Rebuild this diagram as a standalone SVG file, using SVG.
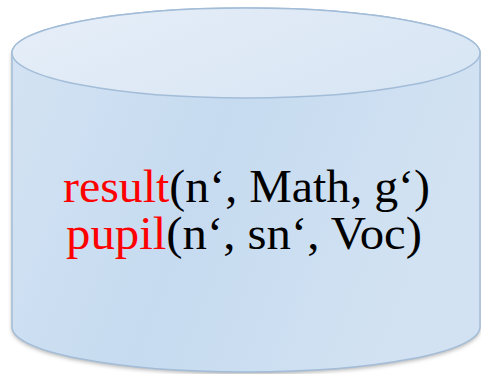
<svg xmlns="http://www.w3.org/2000/svg" width="481" height="374" viewBox="0 0 481 374">
  <style>
    .t { font-family: "Liberation Serif", "DejaVu Serif", serif; font-size: 46px; fill: #000; }
    .r { fill: #ff0000; }
  </style>
  <defs>
    <linearGradient id="body" x1="0" y1="0" x2="1" y2="0.3">
      <stop offset="0" stop-color="#d4e3f3"/>
      <stop offset="0.5" stop-color="#c6dbf0"/>
      <stop offset="1" stop-color="#d2e2f2"/>
    </linearGradient>
    <linearGradient id="top" x1="0" y1="0" x2="1" y2="0.5">
      <stop offset="0" stop-color="#e6eef8"/>
      <stop offset="1" stop-color="#d9e6f4"/>
    </linearGradient>
    <filter id="sh" x="-10%" y="-10%" width="120%" height="130%">
      <feGaussianBlur stdDeviation="2"/>
    </filter>
  </defs>
  <g id="database">
    <path d="M12,53 L12,329 A234,45 0 0 0 480,329 L480,53 Z" fill="#7a7a7a" opacity="0.6" filter="url(#sh)"/>
    <path d="M12,53 L12,327 A234,45 0 0 0 480,327 L480,53 A234,45 0 0 0 12,53 Z" fill="url(#body)" stroke="#a3bdd8" stroke-width="1.5"/>
    <ellipse cx="246" cy="53" rx="234" ry="45" fill="url(#top)" stroke="#a3bdd8" stroke-width="1.5"/>
    <text class="t" x="63" y="202" textLength="367" lengthAdjust="spacingAndGlyphs"><tspan class="r">result</tspan>(n‘, Math, g‘)</text>
    <text class="t" x="66" y="249" textLength="356" lengthAdjust="spacingAndGlyphs"><tspan class="r">pupil</tspan>(n‘, sn‘, Voc)</text>
  </g>
</svg>
